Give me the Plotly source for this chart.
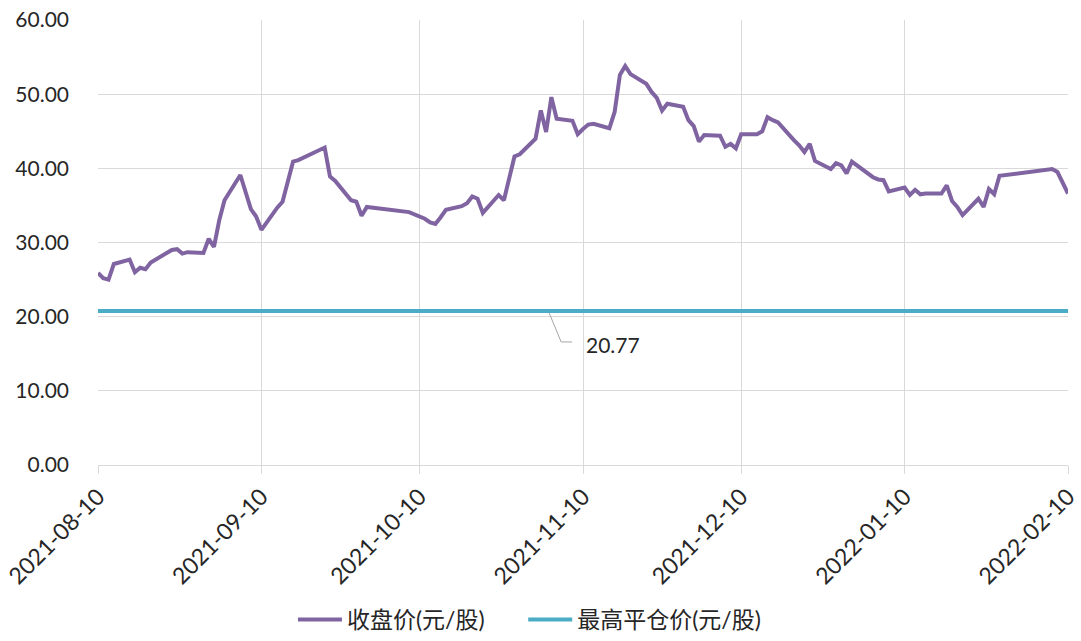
import plotly.graph_objects as go

dates = [
    "2021-08-10", "2021-08-11", "2021-08-12", "2021-08-13", "2021-08-16", "2021-08-17",
    "2021-08-18", "2021-08-19", "2021-08-20", "2021-08-23", "2021-08-24", "2021-08-25",
    "2021-08-26", "2021-08-27", "2021-08-30", "2021-08-31", "2021-09-01", "2021-09-02",
    "2021-09-03", "2021-09-06", "2021-09-07", "2021-09-08", "2021-09-09", "2021-09-10",
    "2021-09-13", "2021-09-14", "2021-09-15", "2021-09-16", "2021-09-17", "2021-09-22",
    "2021-09-23", "2021-09-24", "2021-09-27", "2021-09-28", "2021-09-29", "2021-09-30",
    "2021-10-08", "2021-10-11", "2021-10-12", "2021-10-13", "2021-10-14", "2021-10-15",
    "2021-10-18", "2021-10-19", "2021-10-20", "2021-10-21", "2021-10-22", "2021-10-25",
    "2021-10-26", "2021-10-27", "2021-10-28", "2021-10-29", "2021-11-01", "2021-11-02",
    "2021-11-03", "2021-11-04", "2021-11-05", "2021-11-08", "2021-11-09", "2021-11-10",
    "2021-11-11", "2021-11-12", "2021-11-15", "2021-11-16", "2021-11-17", "2021-11-18",
    "2021-11-19", "2021-11-22", "2021-11-23", "2021-11-24", "2021-11-25", "2021-11-26",
    "2021-11-29", "2021-11-30", "2021-12-01", "2021-12-02", "2021-12-03", "2021-12-06",
    "2021-12-07", "2021-12-08", "2021-12-09", "2021-12-10", "2021-12-13", "2021-12-14",
    "2021-12-15", "2021-12-16", "2021-12-17", "2021-12-20", "2021-12-21", "2021-12-22",
    "2021-12-23", "2021-12-24", "2021-12-27", "2021-12-28", "2021-12-29", "2021-12-30",
    "2021-12-31", "2022-01-04", "2022-01-05", "2022-01-06", "2022-01-07", "2022-01-10",
    "2022-01-11", "2022-01-12", "2022-01-13", "2022-01-14", "2022-01-17", "2022-01-18",
    "2022-01-19", "2022-01-20", "2022-01-21", "2022-01-24", "2022-01-25", "2022-01-26",
    "2022-01-27", "2022-01-28", "2022-02-07", "2022-02-08", "2022-02-09", "2022-02-10",
]

close_price = [
    25.9, 25.2, 25.0, 27.1, 27.7, 26.0,
    26.6, 26.4, 27.3, 28.5, 29.0, 29.1,
    28.5, 28.7, 28.6, 30.5, 29.4, 33.0,
    35.7, 39.1, 36.8, 34.5, 33.5, 31.7,
    34.7, 35.5, 38.2, 40.9, 41.1, 42.8,
    38.9, 38.3, 35.7, 35.5, 33.6, 34.8,
    34.1, 33.2, 32.7, 32.5, 33.4, 34.4,
    34.9, 35.3, 36.2, 35.9, 34.0, 36.4,
    35.7, 38.5, 41.6, 41.9, 44.0, 47.8,
    44.9, 49.6, 46.7, 46.4, 44.6, 45.3,
    45.9, 46.0, 45.4, 47.6, 52.6, 53.8,
    52.7, 51.4, 50.3, 49.5, 47.8, 48.7,
    48.3, 46.5, 45.7, 43.6, 44.5, 44.4,
    42.9, 43.3, 42.7, 44.6, 44.6, 45.0,
    46.9, 46.5, 46.2, 43.8, 43.1, 42.2,
    43.3, 41.0, 39.9, 40.7, 40.4, 39.3,
    40.9, 38.8, 38.5, 38.4, 36.9, 37.4,
    36.4, 37.1, 36.5, 36.6, 36.6, 37.7,
    35.6, 34.8, 33.7, 35.9, 34.8, 37.2,
    36.5, 39.0, 39.9, 39.5, 38.0, 36.6,
]

max_close_out_price = 20.77

tick_dates = ["2021-08-10", "2021-09-10", "2021-10-10", "2021-11-10",
              "2021-12-10", "2022-01-10", "2022-02-10"]
y_ticks = [0, 10, 20, 30, 40, 50, 60]
y_tick_text = ["0.00", "10.00", "20.00", "30.00", "40.00", "50.00", "60.00"]

series_names = ["收盘价(元/股)", "最高平仓价(元/股)"]
label_anchor_x = "2021-11-03 14:00"

FONT = "Lato, 'Noto Sans CJK SC', sans-serif"
TXT = "#262626"
GRID = "#d9d9d9"

fig = go.Figure()
fig.add_trace(go.Scatter(
    x=dates, y=close_price, mode="lines", name=series_names[0],
    line=dict(color="#8064A2", width=4), cliponaxis=False, legend="legend",
))
fig.add_trace(go.Scatter(
    x=[tick_dates[0], tick_dates[-1]], y=[max_close_out_price, max_close_out_price],
    mode="lines", name=series_names[1],
    line=dict(color="#4BACC6", width=4), legend="legend2",
))

fig.add_shape(
    type="path", xref="x", yref="y", xsizemode="pixel", ysizemode="pixel",
    xanchor=label_anchor_x, yanchor=max_close_out_price,
    path="M0,-2 L12,-31 L23,-31", line=dict(color="#a6a6a6", width=1),
)
fig.add_annotation(
    x=label_anchor_x, y=max_close_out_price, text=f"{max_close_out_price:.2f}",
    showarrow=False, xanchor="left", yanchor="middle", xshift=35, yshift=-34,
    font=dict(family=FONT, size=21, color=TXT),
)

legend_common = dict(
    orientation="h", xref="container", yref="container",
    xanchor="left", y=0.0, yanchor="bottom",
    font=dict(family=FONT, size=23, color=TXT),
    itemwidth=44, bgcolor="rgba(0,0,0,0)",
)

fig.update_layout(
    width=1081, height=641,
    margin=dict(l=98, r=13, t=20, b=176, autoexpand=False),
    paper_bgcolor="white", plot_bgcolor="white",
    font=dict(family=FONT, size=21, color=TXT),
    showlegend=True,
    legend=dict(x=0.271, **legend_common),
    legend2=dict(x=0.484, **legend_common),
)
fig.update_xaxes(
    type="date", range=[tick_dates[0], tick_dates[-1]],
    tickvals=tick_dates, ticktext=tick_dates, tickangle=-45,
    showgrid=True, gridcolor=GRID, gridwidth=1,
    ticks="outside", ticklen=8, tickcolor=GRID,
    showline=True, linecolor=GRID, linewidth=1,
    tickfont=dict(family=FONT, size=23, color=TXT),
    zeroline=False, automargin=False,
)
fig.update_yaxes(
    range=[0, 60], tickvals=y_ticks, ticktext=y_tick_text,
    showgrid=True, gridcolor=GRID, gridwidth=1,
    ticks="", showline=False, zeroline=False,
    ticklabelstandoff=28, automargin=False,
    tickfont=dict(family=FONT, size=21, color=TXT),
)

fig.write_html("out.html", config={"displayModeBar": False},
               post_script="document.body.style.margin='0';")
